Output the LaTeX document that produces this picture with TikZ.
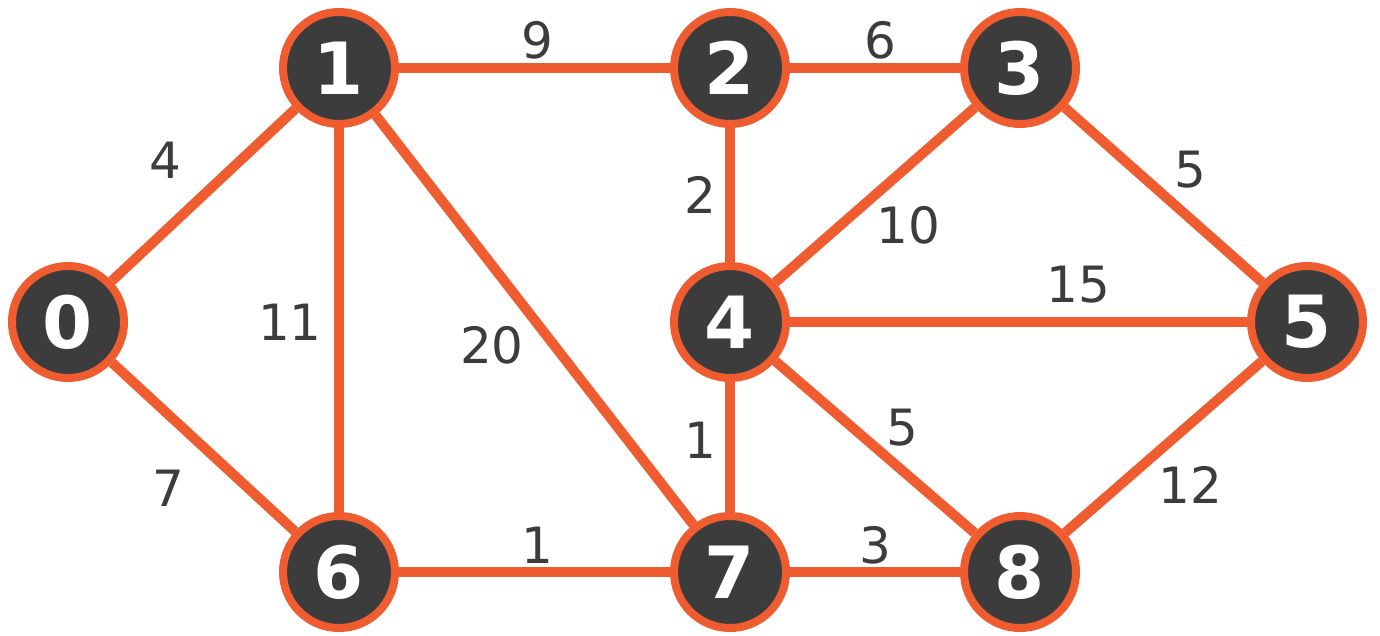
\documentclass[tikz,border=0pt]{standalone}
\usepackage{fontspec}
\setmainfont{DejaVu Sans}
\definecolor{edgeorange}{RGB}{238,92,48}
\definecolor{nodedark}{RGB}{60,60,60}
\begin{document}
\begin{tikzpicture}[x=1pt,y=-1pt,
  vertex/.style={circle,draw=edgeorange,fill=nodedark,line width=8pt,minimum size=112pt,inner sep=0pt,
    text=white,font=\fontsize{72}{72}\selectfont\bfseries},
  link/.style={draw=edgeorange,line width=10pt},
  wlabel/.style={text=nodedark,font=\fontsize{50}{50}\selectfont,inner sep=0pt}]
\useasboundingbox (0,0) rectangle (1380,635);
\node[vertex] (n0) at (68,322) {0};
\node[vertex] (n1) at (339,68) {1};
\node[vertex] (n2) at (730,68) {2};
\node[vertex] (n3) at (1020,68) {3};
\node[vertex] (n4) at (730,322) {4};
\node[vertex] (n5) at (1307,322) {5};
\node[vertex] (n6) at (339,572) {6};
\node[vertex] (n7) at (730,572) {7};
\node[vertex] (n8) at (1020,572) {8};
\draw[link] (n0) -- (n1);
\draw[link] (n0) -- (n6);
\draw[link] (n1) -- (n2);
\draw[link] (n1) -- (n6);
\draw[link] (n1) -- (n7);
\draw[link] (n2) -- (n3);
\draw[link] (n2) -- (n4);
\draw[link] (n3) -- (n4);
\draw[link] (n3) -- (n5);
\draw[link] (n4) -- (n5);
\draw[link] (n4) -- (n7);
\draw[link] (n4) -- (n8);
\draw[link] (n5) -- (n8);
\draw[link] (n6) -- (n7);
\draw[link] (n7) -- (n8);
\node[wlabel] (w01) at (165,160) {4};
\node[wlabel] (w06) at (168,488) {7};
\node[wlabel] (w12) at (537,40) {9};
\node[wlabel] (w16) at (290,322) {11};
\node[wlabel] (w17) at (492,345) {20};
\node[wlabel] (w23) at (880,40) {6};
\node[wlabel] (w24) at (700,195) {2};
\node[wlabel] (w34) at (908,225) {10};
\node[wlabel] (w35) at (1190,170) {5};
\node[wlabel] (w45) at (1078,285) {15};
\node[wlabel] (w47) at (700,440) {1};
\node[wlabel] (w48) at (902,428) {5};
\node[wlabel] (w58) at (1190,485) {12};
\node[wlabel] (w67) at (537,545) {1};
\node[wlabel] (w78) at (875,545) {3};
\end{tikzpicture}
\end{document}
